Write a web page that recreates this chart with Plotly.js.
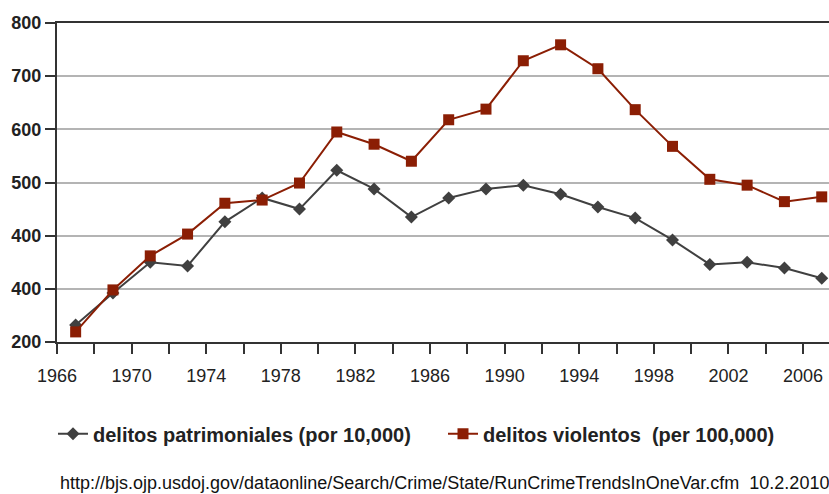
<!DOCTYPE html>
<html>
<head>
<meta charset="utf-8">
<script src="https://cdn.plot.ly/plotly-3.0.1.min.js"></script>
<style>
  body { margin: 0; background: #fff; }
  #plot1 { width: 829px; height: 494px; }
</style>
</head>
<body>
<div id="plot1"></div>
<script>
// data, one point every two years
var years = [1967, 1969, 1971, 1973, 1975, 1977, 1979, 1981, 1983, 1985, 1987,
             1989, 1991, 1993, 1995, 1997, 1999, 2001, 2003, 2005, 2007];
var patrimoniales = [232, 292, 350, 343, 426, 471, 450, 523, 488, 435, 471,
                     488, 495, 478, 454, 433, 392, 346, 350, 339, 320];
var violentos = [219, 298, 362, 403, 461, 467, 499, 595, 572, 540, 618,
                 638, 729, 759, 714, 637, 568, 506, 495, 464, 473];

var xTickVals = [1966, 1968, 1970, 1972, 1974, 1976, 1978, 1980, 1982, 1984, 1986,
                 1988, 1990, 1992, 1994, 1996, 1998, 2000, 2002, 2004, 2006];
var xTickText = ['1966', '', '1970', '', '1974', '', '1978', '', '1982', '', '1986',
                 '', '1990', '', '1994', '', '1998', '', '2002', '', '2006'];
// the original axis really prints "400" twice
var yTickVals = [200, 300, 400, 500, 600, 700, 800];
var yTickText = ['200', '400', '400', '500', '600', '700', '800'];

var sourceText = 'http://bjs.ojp.usdoj.gov/dataonline/Search/Crime/State/RunCrimeTrendsInOneVar.cfm  10.2.2010';

var font = 'Liberation Sans, Arial, sans-serif';
var legendFont = { family: font, size: 20, weight: 'bold', color: '#222' };

var data = [
    {
        x: years,
        y: patrimoniales,
        mode: 'lines+markers',
        name: 'delitos patrimoniales (por 10,000)',
        legend: 'legend',
        line: { color: '#404040', width: 2 },
        marker: { symbol: 'diamond', size: 10, color: '#404040' }
    },
    {
        x: years,
        y: violentos,
        mode: 'lines+markers',
        name: 'delitos violentos  (per 100,000)',
        legend: 'legend2',
        line: { color: '#8b1e04', width: 2 },
        marker: { symbol: 'square', size: 11, color: '#8b1e04' }
    }
];

var layout = {
    width: 829,
    height: 494,
    margin: { l: 57, r: 0, t: 23, b: 152, pad: 0 },
    paper_bgcolor: '#fff',
    plot_bgcolor: '#fff',
    showlegend: true,
    legend: {
        orientation: 'h',
        x: -0.0052,
        xanchor: 'left',
        y: -0.288,
        yanchor: 'middle',
        font: legendFont
    },
    legend2: {
        orientation: 'h',
        x: 0.5,
        xanchor: 'left',
        y: -0.288,
        yanchor: 'middle',
        font: legendFont
    },
    xaxis: {
        range: [1966, 2007.39],
        tickmode: 'array',
        tickvals: xTickVals,
        ticktext: xTickText,
        ticks: 'outside',
        ticklen: 10,
        tickwidth: 2,
        tickcolor: '#333',
        ticklabelstandoff: 6,
        showline: true,
        linecolor: '#333',
        linewidth: 2,
        mirror: true,
        showgrid: false,
        zeroline: false,
        tickfont: { family: font, size: 18, color: '#222' }
    },
    yaxis: {
        range: [200, 800],
        tickmode: 'array',
        tickvals: yTickVals,
        ticktext: yTickText,
        ticks: 'outside',
        ticklen: 10,
        tickwidth: 2,
        tickcolor: '#333',
        showline: true,
        linecolor: '#333',
        linewidth: 2,
        showgrid: true,
        gridcolor: '#b4b4b4',
        gridwidth: 2,
        zeroline: false,
        tickfont: { family: font, size: 18, weight: 'bold', color: '#222' }
    },
    annotations: [{
        text: sourceText,
        xref: 'paper',
        yref: 'paper',
        x: 0.001,
        y: -0.442,
        xanchor: 'left',
        yanchor: 'middle',
        showarrow: false,
        font: { family: font, size: 18, color: '#111' }
    }]
};

Plotly.newPlot('plot1', data, layout, { displayModeBar: false, staticPlot: true });
</script>
</body>
</html>
